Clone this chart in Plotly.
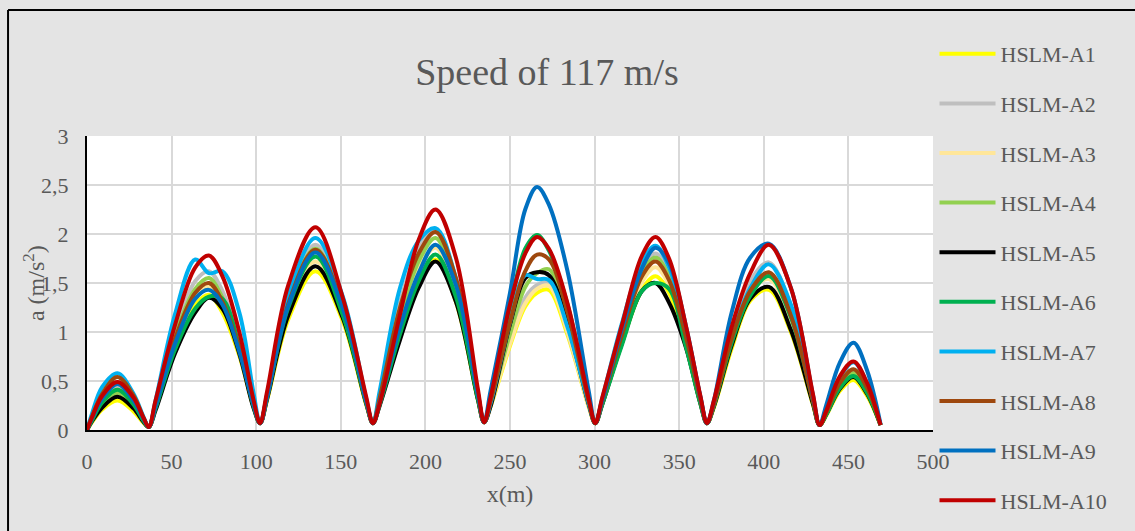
import plotly.graph_objects as go

# Shared x positions (m)
x_m = [0, 3, 9, 18, 27.5, 33.5,
       36.5, 40.5, 52, 64, 72, 80, 90, 98.5,
       102.3, 106.5, 119, 135, 151, 165,
       169, 173, 185, 196, 206, 218, 231,
       234.7, 238.5, 250, 259, 266, 273, 284, 296.5,
       300.4, 304.5, 316, 328, 336, 344, 354, 362.5,
       366.4, 370.5, 381, 392, 403, 416, 429,
       433, 437, 445, 453, 461, 469]

series_names = ["HSLM-A1", "HSLM-A2", "HSLM-A3", "HSLM-A4", "HSLM-A5",
                "HSLM-A6", "HSLM-A7", "HSLM-A8", "HSLM-A9", "HSLM-A10"]

a1 = [0.0, 0.08, 0.21, 0.30, 0.19, 0.07,
      0.03, 0.23, 0.86, 1.28, 1.38, 1.20, 0.76, 0.23,
      0.07, 0.31, 1.13, 1.62, 1.12, 0.26,
      0.07, 0.28, 1.01, 1.53, 1.74, 1.31, 0.31,
      0.08, 0.24, 0.86, 1.26, 1.40, 1.43, 0.97, 0.24,
      0.07, 0.27, 0.88, 1.43, 1.57, 1.40, 0.86, 0.28,
      0.07, 0.23, 0.83, 1.32, 1.43, 1.00, 0.26,
      0.05, 0.15, 0.40, 0.51, 0.35, 0.05]
a2 = [0.0, 0.11, 0.31, 0.45, 0.29, 0.10,
      0.03, 0.28, 1.00, 1.52, 1.62, 1.42, 0.90, 0.28,
      0.07, 0.36, 1.32, 1.89, 1.30, 0.30,
      0.07, 0.33, 1.30, 1.85, 2.05, 1.52, 0.36,
      0.08, 0.26, 0.92, 1.35, 1.48, 1.50, 1.00, 0.25,
      0.07, 0.31, 1.01, 1.64, 1.80, 1.60, 0.99, 0.32,
      0.07, 0.28, 0.98, 1.52, 1.71, 1.25, 0.32,
      0.05, 0.17, 0.47, 0.60, 0.41, 0.05]
a3 = [0.0, 0.09, 0.25, 0.36, 0.23, 0.08,
      0.03, 0.25, 0.91, 1.36, 1.46, 1.27, 0.80, 0.25,
      0.07, 0.33, 1.20, 1.72, 1.19, 0.28,
      0.07, 0.30, 1.08, 1.64, 1.86, 1.40, 0.33,
      0.08, 0.25, 0.88, 1.29, 1.44, 1.47, 1.00, 0.24,
      0.07, 0.28, 0.93, 1.51, 1.66, 1.48, 0.91, 0.30,
      0.07, 0.25, 0.88, 1.40, 1.54, 1.12, 0.29,
      0.05, 0.16, 0.44, 0.56, 0.39, 0.05]
a4 = [0.0, 0.10, 0.26, 0.38, 0.24, 0.09,
      0.03, 0.26, 0.96, 1.44, 1.55, 1.35, 0.85, 0.26,
      0.07, 0.35, 1.30, 1.85, 1.28, 0.30,
      0.07, 0.31, 1.14, 1.72, 1.96, 1.47, 0.35,
      0.08, 0.27, 0.98, 1.46, 1.60, 1.64, 1.10, 0.27,
      0.07, 0.30, 0.99, 1.60, 1.76, 1.57, 0.97, 0.32,
      0.07, 0.25, 0.89, 1.37, 1.58, 1.17, 0.30,
      0.05, 0.17, 0.45, 0.58, 0.40, 0.05]
a5 = [0.0, 0.09, 0.23, 0.34, 0.22, 0.08,
      0.03, 0.20, 0.78, 1.20, 1.35, 1.24, 0.78, 0.22,
      0.07, 0.32, 1.17, 1.67, 1.15, 0.27,
      0.07, 0.25, 0.92, 1.45, 1.72, 1.31, 0.31,
      0.08, 0.24, 1.08, 1.55, 1.61, 1.58, 1.08, 0.26,
      0.07, 0.26, 0.88, 1.42, 1.50, 1.30, 0.84, 0.27,
      0.07, 0.24, 0.86, 1.34, 1.46, 1.02, 0.27,
      0.05, 0.16, 0.42, 0.54, 0.37, 0.05]
a6 = [0.0, 0.10, 0.28, 0.41, 0.26, 0.09,
      0.03, 0.22, 0.82, 1.24, 1.36, 1.34, 0.85, 0.24,
      0.07, 0.34, 1.25, 1.77, 1.18, 0.28,
      0.07, 0.26, 0.98, 1.52, 1.79, 1.36, 0.32,
      0.08, 0.32, 1.25, 1.85, 1.99, 1.83, 1.28, 0.31,
      0.07, 0.26, 0.86, 1.42, 1.50, 1.44, 0.85, 0.27,
      0.07, 0.25, 0.89, 1.37, 1.57, 1.15, 0.30,
      0.05, 0.16, 0.43, 0.55, 0.38, 0.05]
a7 = [0.0, 0.17, 0.44, 0.58, 0.37, 0.13,
      0.03, 0.30, 1.18, 1.74, 1.60, 1.62, 1.20, 0.37,
      0.07, 0.37, 1.37, 1.96, 1.37, 0.32,
      0.07, 0.40, 1.45, 1.93, 2.06, 1.55, 0.38,
      0.08, 0.27, 1.10, 1.58, 1.54, 1.53, 1.05, 0.27,
      0.07, 0.32, 1.08, 1.72, 1.88, 1.66, 1.03, 0.34,
      0.07, 0.27, 0.95, 1.45, 1.69, 1.28, 0.32,
      0.05, 0.20, 0.54, 0.69, 0.48, 0.05]
a8 = [0.0, 0.14, 0.37, 0.54, 0.35, 0.12,
      0.03, 0.26, 0.93, 1.40, 1.50, 1.31, 0.83, 0.26,
      0.07, 0.35, 1.29, 1.84, 1.27, 0.29,
      0.07, 0.33, 1.25, 1.80, 2.02, 1.55, 0.37,
      0.08, 0.29, 1.10, 1.62, 1.79, 1.74, 1.20, 0.29,
      0.07, 0.29, 0.96, 1.57, 1.72, 1.53, 0.95, 0.31,
      0.07, 0.26, 0.93, 1.42, 1.61, 1.17, 0.30,
      0.05, 0.18, 0.48, 0.62, 0.43, 0.05]
a9 = [0.0, 0.12, 0.32, 0.47, 0.30, 0.11,
      0.03, 0.24, 0.88, 1.34, 1.43, 1.28, 0.80, 0.25,
      0.07, 0.34, 1.27, 1.81, 1.25, 0.29,
      0.07, 0.28, 1.05, 1.60, 1.89, 1.48, 0.36,
      0.08, 0.40, 1.40, 2.25, 2.48, 2.30, 1.62, 0.40,
      0.07, 0.30, 1.02, 1.65, 1.86, 1.70, 1.06, 0.34,
      0.07, 0.30, 1.20, 1.76, 1.90, 1.45, 0.36,
      0.05, 0.26, 0.69, 0.89, 0.61, 0.06]
a10 = [0.0, 0.13, 0.35, 0.49, 0.33, 0.12,
       0.03, 0.30, 1.07, 1.66, 1.78, 1.57, 1.00, 0.30,
       0.07, 0.40, 1.48, 2.07, 1.36, 0.34,
       0.07, 0.27, 1.18, 1.94, 2.25, 1.76, 0.42,
       0.08, 0.33, 1.28, 1.80, 1.97, 1.85, 1.29, 0.32,
       0.07, 0.33, 1.06, 1.78, 1.97, 1.75, 1.06, 0.35,
       0.07, 0.30, 1.05, 1.60, 1.89, 1.45, 0.37,
       0.05, 0.20, 0.55, 0.70, 0.48, 0.05]

series_values = [a1, a2, a3, a4, a5, a6, a7, a8, a9, a10]
colors = ["#FFFF00", "#BFBFBF", "#FFE699", "#92D050", "#000000",
          "#00B050", "#00B0F0", "#9E480E", "#0070C0", "#C00000"]

x_ticks = [0, 50, 100, 150, 200, 250, 300, 350, 400, 450, 500]
y_ticks = [0, 0.5, 1, 1.5, 2, 2.5, 3]

FONT = "Liberation Serif"
GREY = "#595959"

fig = go.Figure()
for name, vals, col in zip(series_names, series_values, colors):
    fig.add_trace(go.Scatter(
        x=x_m, y=vals, name=name, mode="lines", legendgroup=name,
        line=dict(color=col, width=4, shape="spline", smoothing=1.0),
    ))

W, H = 1135, 531
L, R, T, B = 87, 1135 - 933.5, 136, 531 - 430
pw, ph = W - L - R, H - T - B

def px_to_paper_x(px):
    return (px - L) / pw

def px_to_paper_y(py):
    return (H - B - py) / ph

fig.update_layout(
    width=W, height=H,
    margin=dict(l=L, r=R, t=T, b=B, pad=0),
    paper_bgcolor="#E4E4E4",
    plot_bgcolor="#FFFFFF",
    separators=", ",
    font=dict(family=FONT, color=GREY, size=22),
    title=dict(text="Speed of 117 m/s", font=dict(family=FONT, size=38, color=GREY),
               x=547 / W, xref="container", xanchor="center",
               y=1 - 72 / H, yref="container", yanchor="middle"),
    xaxis=dict(range=[0, 500], tickvals=x_ticks, showgrid=True, gridcolor="#D9D9D9",
               gridwidth=1.5, showline=True, linecolor="#000000", linewidth=2,
               zeroline=False, ticks="", ticklabelstandoff=11,
               tickfont=dict(family=FONT, size=22, color=GREY),
               title=dict(text="x(m)", font=dict(family=FONT, size=24, color=GREY), standoff=12)),
    yaxis=dict(range=[0, 3], tickvals=y_ticks, showgrid=True, gridcolor="#D9D9D9",
               gridwidth=1.5, showline=True, linecolor="#000000", linewidth=2,
               zeroline=False, ticks="", ticklabelstandoff=12,
               tickfont=dict(family=FONT, size=22, color=GREY)),
    annotations=[
        dict(text="a (m/s<sup>2</sup>)", textangle=-90, showarrow=False,
             xref="paper", yref="paper", x=px_to_paper_x(34), y=px_to_paper_y(283),
             xanchor="center", yanchor="middle",
             font=dict(family=FONT, size=24, color=GREY)),
    ],
    legend=dict(x=px_to_paper_x(935), xanchor="left", y=px_to_paper_y(33), yanchor="top",
                bgcolor="rgba(0,0,0,0)", font=dict(family=FONT, size=22, color=GREY),
                tracegroupgap=18, itemwidth=56, maxheight=1.0),
    shapes=[
        dict(type="line", xref="paper", yref="paper",
             x0=px_to_paper_x(8), x1=px_to_paper_x(1140),
             y0=px_to_paper_y(10), y1=px_to_paper_y(10),
             line=dict(color="#000000", width=2)),
        dict(type="line", xref="paper", yref="paper",
             x0=px_to_paper_x(8), x1=px_to_paper_x(8),
             y0=px_to_paper_y(10), y1=px_to_paper_y(540),
             line=dict(color="#000000", width=2)),
    ],
)

fig.write_html("out.html", config={"displayModeBar": False},
               post_script="document.body.style.margin='0';")
